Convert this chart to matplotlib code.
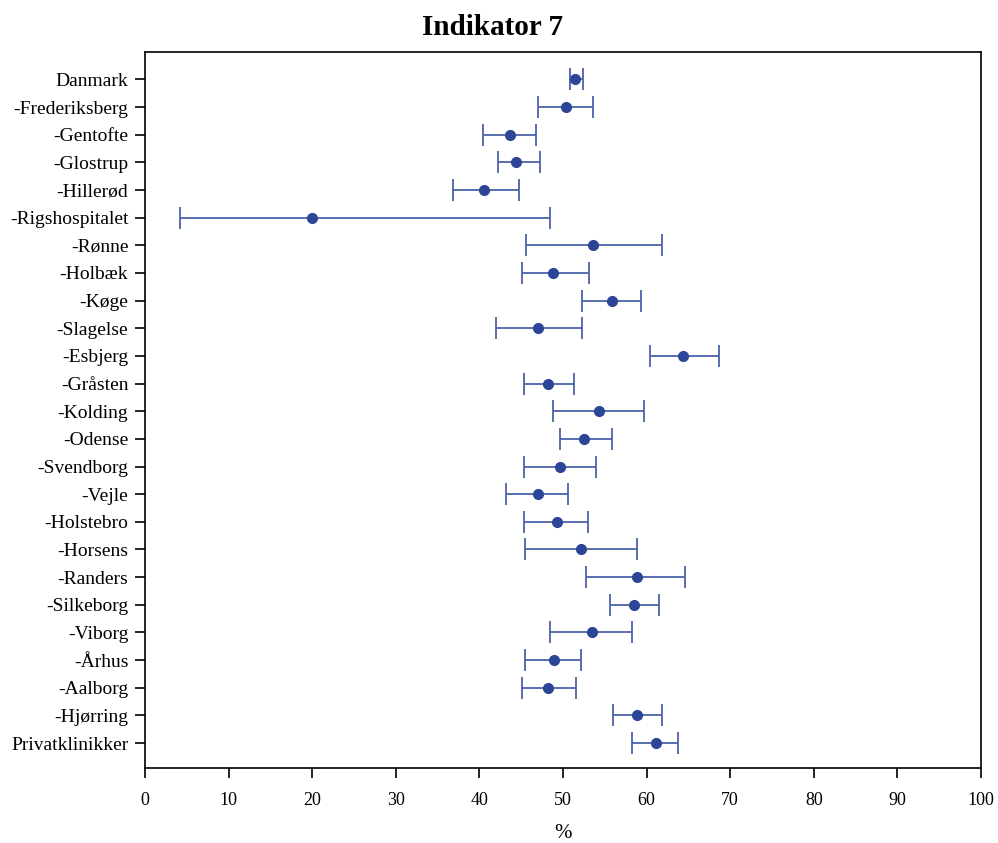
import matplotlib
matplotlib.use("Agg")
import matplotlib.pyplot as plt
import numpy as np

# hospital rows, top to bottom
labels = ["Danmark", "-Frederiksberg", "-Gentofte", "-Glostrup", "-Hillerød",
          "-Rigshospitalet", "-Rønne", "-Holbæk", "-Køge", "-Slagelse",
          "-Esbjerg", "-Gråsten", "-Kolding", "-Odense", "-Svendborg", "-Vejle",
          "-Holstebro", "-Horsens", "-Randers", "-Silkeborg", "-Viborg",
          "-Århus", "-Aalborg", "-Hjørring", "Privatklinikker"]
estimate = [51.4, 50.3, 43.6, 44.4, 40.6, 20.0, 53.6, 48.8, 55.9, 47.0,
            64.3, 48.2, 54.3, 52.5, 49.6, 47.0, 49.3, 52.1, 58.8, 58.5,
            53.5, 48.9, 48.2, 58.9, 61.1]
lower = [50.8, 47.0, 40.4, 42.2, 36.8, 4.2, 45.6, 45.1, 52.3, 42.0,
         60.4, 45.3, 48.8, 49.6, 45.3, 43.2, 45.3, 45.5, 52.8, 55.6,
         48.4, 45.4, 45.1, 56.0, 58.3]
upper = [52.4, 53.6, 46.8, 47.2, 44.7, 48.4, 61.8, 53.1, 59.3, 52.3,
         68.6, 51.3, 59.7, 55.9, 54.0, 50.6, 53.0, 58.9, 64.6, 61.5,
         58.3, 52.2, 51.6, 61.8, 63.7]

plt.rcParams['font.family'] = ['Liberation Serif', 'DejaVu Serif']

est = np.array(estimate)
err = np.vstack([est - np.array(lower), np.array(upper) - est])
ypos = np.arange(len(labels))

fig = plt.figure(figsize=(9.98, 8.43), dpi=100)
ax = fig.add_axes([0.1453, 0.089, 0.8377, 0.849])

ax.errorbar(est, ypos, xerr=err, fmt='none', ecolor='#4a62aa',
            elinewidth=1.3, capsize=8, capthick=1.3)
ax.plot(est, ypos, 'o', color='#2d4596', markersize=7)

ax.set_xlim(0, 100)
ax.set_ylim(24.9, -0.98)
ax.set_xticks(np.arange(0, 101, 10))
ax.set_yticks(ypos)
ax.set_yticklabels(labels)
ax.tick_params(axis='y', labelsize=14, length=7, width=1.2, pad=5)
ax.tick_params(axis='x', labelsize=13, length=7, width=1.2, pad=10)
for s in ax.spines.values():
    s.set_linewidth(1.2)

ax.set_xlabel('%', fontsize=15, labelpad=11)
fig.text(0.494, 0.967, 'Indikator 7', fontsize=21, fontweight='bold',
         ha='center', va='center')

fig.savefig('out.png', dpi=100)
